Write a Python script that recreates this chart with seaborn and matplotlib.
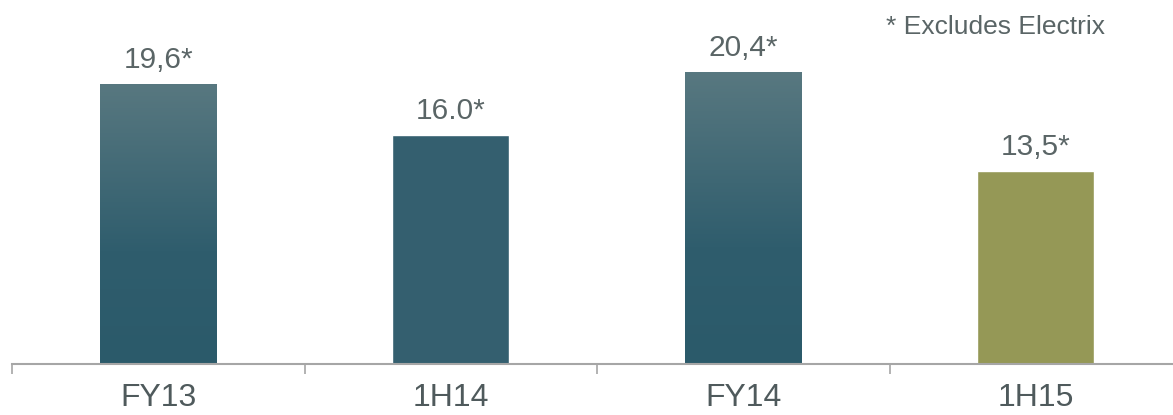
import numpy as np
import pandas as pd
import matplotlib
matplotlib.use("Agg")
import matplotlib.pyplot as plt
from matplotlib.colors import LinearSegmentedColormap
import seaborn as sns

# Datos
periodos = ["FY13", "1H14", "FY14", "1H15"]
valores = [19.6, 16.0, 20.4, 13.5]
etiquetas = ["19,6*", "16.0*", "20,4*", "13,5*"]
colores = ["#2b5a6a", "#345f6f", "#2b5a6a", "#959856"]
degradado = [True, False, True, False]
nota = "* Excludes Electrix"

sns.set_theme(style="white")
plt.rcParams["font.family"] = ["Liberation Sans", "DejaVu Sans"]

df = pd.DataFrame({"periodo": periodos, "valor": valores})

fig = plt.figure(figsize=(11.73, 4.15), dpi=100)
ax = fig.add_axes([12 / 1173, (415 - 364) / 415, 1170 / 1173, 364 / 415])

sns.barplot(data=df, x="periodo", y="valor", hue="periodo", palette=colores,
            width=0.40, legend=False, ax=ax, saturation=1)

# degradado vertical para FY13 y FY14
cmap = LinearSegmentedColormap.from_list(
    "grad", [(0, "#2b5a6a"), (0.4, "#2f5d6d"), (1, "#587880")])
grad = np.linspace(0, 1, 256).reshape(-1, 1)

for barra, usar, etiqueta in zip(ax.patches, degradado, etiquetas):
    x0 = barra.get_x()
    w = barra.get_width()
    h = barra.get_height()
    if usar:
        img = ax.imshow(grad, cmap=cmap, origin="lower", aspect="auto",
                        extent=[x0, x0 + w, 0, h], zorder=barra.get_zorder() + 0.1)
        img.set_clip_path(barra)
    ax.text(x0 + w / 2, h + 1.12, etiqueta, ha="center", va="baseline",
            fontsize=21.5, color="#5a6566")

ax.set_xlim(-0.5, 3.5)
ax.set_ylim(0, 25.45)
ax.set_xlabel("")
ax.set_ylabel("")
ax.set_yticks([])

for lado in ["top", "left", "right"]:
    ax.spines[lado].set_visible(False)
ax.spines["bottom"].set_color("#a6a6a6")
ax.spines["bottom"].set_linewidth(1.5)

ax.set_xticks([0, 1, 2, 3])
ax.set_xticklabels(periodos, fontsize=23, color="#4f5a5c")
ax.tick_params(axis="x", which="major", length=0, pad=14)
ax.set_xticks([-0.5, 0.5, 1.5, 2.5, 3.5], minor=True)
ax.tick_params(axis="x", which="minor", length=7, width=1.2, color="#a6a6a6",
               direction="out", bottom=True)

fig.text(996 / 1173, 1 - 27 / 415, nota, ha="center", va="center",
         fontsize=19, color="#5a6566")

fig.savefig("out.png", dpi=100)
